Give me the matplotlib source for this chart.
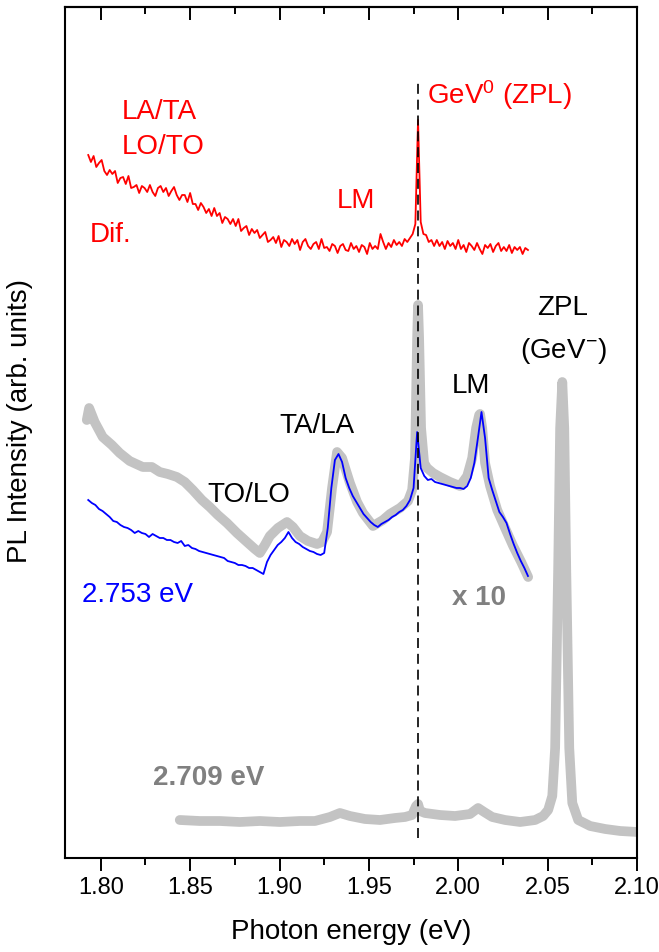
import numpy as np
import matplotlib.pyplot as plt
from matplotlib.ticker import MultipleLocator, FormatStrFormatter

plt.rcParams['font.family'] = ['Liberation Sans', 'DejaVu Sans']
plt.rcParams['mathtext.fontset'] = 'custom'
plt.rcParams['mathtext.rm'] = 'Liberation Sans'
plt.rcParams['mathtext.it'] = 'Liberation Sans:italic'

# difference spectrum (red), sampled every 1.5 meV from 1.793 eV
dif_start, dif_step = 1.793, 0.0015
dif_y = [703, 696, 702, 691, 695, 698, 687, 683, 688, 684,
         687, 675, 680, 681, 674, 682, 670, 671, 673, 665,
         672, 670, 666, 673, 666, 662, 670, 672, 666, 670,
         662, 667, 671, 663, 658, 663, 663, 656, 665, 654,
         654, 648, 655, 651, 645, 649, 642, 650, 642, 645,
         635, 641, 639, 634, 639, 632, 639, 627, 630, 632,
         623, 629, 625, 628, 620, 623, 626, 616, 618, 621,
         615, 622, 611, 618, 616, 612, 619, 614, 618, 608,
         616, 619, 612, 609, 614, 616, 609, 619, 610, 611,
         607, 614, 612, 605, 612, 614, 608, 607, 615, 609,
         612, 606, 613, 611, 604, 615, 609, 612, 609, 624,
         616, 609, 615, 611, 618, 613, 616, 612, 619, 616,
         620, 624, 634, 738, 636, 624, 623, 616, 618, 612,
         618, 612, 616, 609, 617, 612, 615, 609, 618, 609,
         613, 606, 615, 612, 608, 615, 609, 604, 613, 610,
         614, 606, 612, 615, 607, 611, 607, 613, 605, 611,
         608, 611, 604, 610, 608]

# 2.753 eV excitation (blue), sampled every 2 meV
blue_start, blue_step = 1.793, 0.002
blue_y = [358, 355, 353, 349, 347, 344, 341, 337, 336, 333,
          331, 330, 328, 325, 327, 325, 324, 321, 324, 322,
          320, 320, 318, 318, 316, 315, 317, 312, 313, 310,
          309, 307, 306, 305, 304, 303, 302, 301, 300, 297,
          296, 295, 293, 293, 292, 290, 290, 288, 286, 284,
          296, 303, 308, 313, 316, 320, 326, 320, 316, 314,
          311, 309, 307, 306, 304, 303, 305, 330, 370, 398,
          404, 396, 380, 370, 362, 356, 350, 344, 340, 336,
          333, 331, 334, 336, 338, 341, 343, 346, 348, 352,
          358, 370, 426, 390, 382, 378, 379, 376, 375, 374,
          373, 372, 371, 370, 370, 369, 372, 380, 395, 420,
          446, 420, 380, 368, 357, 346, 341, 335, 324, 314,
          305, 297, 290, 282]

# 2.709 eV excitation x10 (grey, upper)
gray10_x = [1.7922, 1.7935, 1.7966, 1.8011, 1.8062, 1.8106, 1.8162, 1.8235,
            1.8286, 1.8330, 1.8375, 1.8426, 1.8470, 1.8515, 1.8566, 1.8610,
            1.8655, 1.8706, 1.8762, 1.8818, 1.8862, 1.8890, 1.8918, 1.8946,
            1.8991, 1.9042, 1.9075, 1.9114, 1.9159, 1.9210, 1.9238, 1.9266,
            1.9294, 1.9322, 1.9350, 1.9394, 1.9434, 1.9467, 1.9523, 1.9579,
            1.9618, 1.9674, 1.9719, 1.9742, 1.9758, 1.9770, 1.9775, 1.9781,
            1.9792, 1.9809, 1.9826, 1.9859, 1.9898, 1.9954, 2.0010, 2.0050,
            2.0078, 2.0100, 2.0117, 2.0122, 2.0134, 2.0150, 2.0178, 2.0218,
            2.0262, 2.0307, 2.0352, 2.0391]
gray10_y = [438, 450, 436, 421, 413, 405, 397, 391,
            391, 386, 384, 381, 376, 368, 358, 351,
            343, 335, 325, 316, 309, 305, 313, 322,
            330, 336, 331, 322, 317, 314, 316, 326,
            370, 406, 400, 375, 356, 345, 332, 338,
            344, 350, 357, 368, 400, 520, 553, 520,
            430, 395, 390, 385, 381, 376, 372, 382,
            400, 430, 443, 444, 430, 395, 372, 348,
            330, 312, 296, 281]

# 2.709 eV excitation (grey, lower)
gray_x = [1.8442, 1.8554, 1.8666, 1.8778, 1.8890, 1.9002, 1.9114, 1.9198,
          1.9282, 1.9338, 1.9394, 1.9478, 1.9562, 1.9646, 1.9702, 1.9742,
          1.9764, 1.9775, 1.9786, 1.9814, 1.9898, 1.9982, 2.0066, 2.0111,
          2.0145, 2.0190, 2.0262, 2.0346, 2.0430, 2.0475, 2.0503, 2.0526,
          2.0542, 2.0559, 2.0570, 2.0582, 2.0593, 2.0604, 2.0621, 2.0638,
          2.0671, 2.0738, 2.0822, 2.0906, 2.1002]
gray_y = [38, 37, 37, 36, 37, 36, 37, 37,
          41, 45, 42, 39, 38, 40, 41, 43,
          52, 54, 47, 45, 43, 42, 44, 50,
          46, 41, 38, 36, 38, 42, 48, 62,
          110, 290, 430, 476, 430, 290, 110, 55,
          38, 32, 29, 27, 26]

zpl_neutral = 1.9774

dif_x = dif_start + dif_step * np.arange(len(dif_y))
blue_x = blue_start + blue_step * np.arange(len(blue_y))

red = '#ff0000'
blue = '#0000ff'
light = '#c3c3c3'
dark = '#808080'

fig = plt.figure(figsize=(6.59, 9.52), dpi=100)
ax = fig.add_axes([65 / 659, 1 - 858 / 952, 572 / 659, 851 / 952])

ax.plot(gray_x, gray_y, color=light, lw=7, solid_capstyle='round', solid_joinstyle='round', zorder=1)
ax.plot(gray10_x, gray10_y, color=light, lw=7, solid_capstyle='round', solid_joinstyle='round', zorder=1)
ax.plot(blue_x, blue_y, color=blue, lw=1.3, zorder=2)
ax.plot(dif_x, dif_y, color=red, lw=1.3, zorder=2)
ax.plot([zpl_neutral, zpl_neutral], [20, 780], color='black', lw=1.2, dashes=(6, 3.5), zorder=3)

fs = 20
ax.text(1.8118, 739, 'LA/TA', color=red, fontsize=fs)
ax.text(1.8118, 704, 'LO/TO', color=red, fontsize=fs)
ax.text(1.7938, 616, 'Dif.', color=red, fontsize=fs)
ax.text(1.9322, 650, 'LM', color=red, fontsize=fs)
ax.text(1.9826, 754, 'GeV$^{0}$ (ZPL)', color=red, fontsize=fs)
ax.text(1.9002, 425, 'TA/LA', color='black', fontsize=fs)
ax.text(1.8594, 356, 'TO/LO', color='black', fontsize=fs)
ax.text(1.9966, 465, 'LM', color='black', fontsize=fs)
ax.text(2.0582, 543, 'ZPL', color='black', fontsize=fs, ha='center')
ax.text(2.0587, 500, '(GeV$^{-}$)', color='black', fontsize=fs, ha='center')
ax.text(1.7894, 256, '2.753 eV', color=blue, fontsize=fs)
ax.text(1.9966, 253, 'x 10', color=dark, fontsize=fs, fontweight='bold')
ax.text(1.8291, 73, '2.709 eV', color=dark, fontsize=fs, fontweight='bold')

ax.set_xlim(1.78, 2.10)
ax.set_ylim(0, 851)
ax.set_yticks([])
ax.xaxis.set_major_locator(MultipleLocator(0.05))
ax.xaxis.set_minor_locator(MultipleLocator(0.025))
ax.xaxis.set_major_formatter(FormatStrFormatter('%.2f'))
ax.tick_params(axis='x', which='major', length=9.5, width=1.4, labelsize=17, pad=4)
ax.tick_params(axis='x', which='minor', length=5, width=1.4)

top = ax.secondary_xaxis('top')
top.xaxis.set_major_locator(MultipleLocator(0.05))
top.xaxis.set_minor_locator(MultipleLocator(0.025))
top.tick_params(axis='x', which='major', direction='in', length=9.5, width=1.4, labeltop=False)
top.tick_params(axis='x', which='minor', direction='in', length=5, width=1.4)
top.spines['top'].set_linewidth(1.5)

for s in ax.spines.values():
    s.set_linewidth(1.5)

ax.set_xlabel('Photon energy (eV)', fontsize=20, va='center')
ax.xaxis.set_label_coords(0.5, -0.087)
ax.set_ylabel('PL Intensity (arb. units)', fontsize=20, va='center')
ax.yaxis.set_label_coords(-0.0787, 0.5135)

fig.savefig('out.png', dpi=100)
